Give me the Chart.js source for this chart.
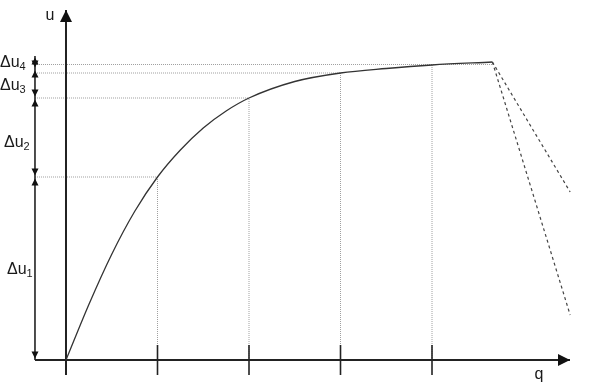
<!DOCTYPE html>
<html>
<head>
<title>u(q)</title>
<script src="https://cdn.jsdelivr.net/npm/chart.js"></script>
<style>
    body { margin: 0; background: #fff; }
    canvas { display: block; }
</style>
</head>
<body>
<canvas id="chart" width="600" height="383"></canvas>
<script>
// values (q along the bottom, u up the side)
const qTicks = [0, 1, 2, 3, 4];
const uLevels = [0, 1.83, 2.62, 2.87, 2.955];
const curveQ = [0, 0.25, 0.5, 0.75, 1.0, 1.25, 1.5, 1.75, 2.0, 2.5, 3.0, 3.5, 4.0, 4.66];
const curveU = [0, 0.555, 1.058, 1.485, 1.83, 2.10, 2.32, 2.49, 2.62, 2.785, 2.87, 2.915, 2.95, 2.98];
const fallQ = [5.51, 5.51];
const fallU = [1.68, 0.45];
const dimLevels = [0, 1.83, 2.62, 2.91, 3.04];
const subscripts = ['1', '2', '3', '4'];

// geometry of the drawing
const qAxisStart = -0.339, qAxisEnd = 5.508;
const uAxisStart = -0.15, uAxisEnd = 3.50;
const dimQ = -0.339;
const tickHalf = 0.15;

const ink = '#333';
const guide = '#a0a0a0';

function seg(points, opts) {
    return Object.assign({
        data: points.map(p => ({ x: p[0], y: p[1] })),
        borderColor: ink,
        borderWidth: 1,
        pointRadius: 0,
        tension: 0,
        fill: false,
        clip: false
    }, opts || {});
}

const datasets = [];

// the curve
datasets.push(seg(curveQ.map((q, i) => [q, curveU[i]]), {
    borderWidth: 1.3, cubicInterpolationMode: 'monotone'
}));

// the two dashed drops after the peak
const peakQ = curveQ[curveQ.length - 1], peakU = curveU[curveU.length - 1];
fallQ.forEach((q, i) => {
    datasets.push(seg([[peakQ, peakU], [q, fallU[i]]], { borderDash: [3, 3], borderWidth: 1.2, borderColor: '#444' }));
});

// axes
datasets.push(seg([[0, uAxisStart], [0, uAxisEnd]], { borderWidth: 2, borderColor: '#222' }));
datasets.push(seg([[qAxisStart, 0], [qAxisEnd, 0]], { borderWidth: 2, borderColor: '#222' }));

// ticks on q
qTicks.slice(1).forEach(q => {
    datasets.push(seg([[q, -tickHalf], [q, tickHalf]], { borderWidth: 1.6, borderColor: '#222' }));
});

// dimension line on the left
datasets.push(seg([[dimQ, dimLevels[0]], [dimQ, dimLevels[dimLevels.length - 1]]], { borderWidth: 1.6, borderColor: '#222' }));

// dotted guides
for (let i = 1; i < qTicks.length; i++) {
    const right = i === qTicks.length - 1 ? peakQ : qTicks[i];
    datasets.push(seg([[dimQ, uLevels[i]], [right, uLevels[i]]], { borderColor: guide, borderDash: [1, 1] }));
    datasets.push(seg([[qTicks[i], 0], [qTicks[i], uLevels[i]]], { borderColor: guide, borderDash: [1, 1] }));
}

function head(ctx, x, y, dir, len, half) {
    ctx.beginPath();
    ctx.moveTo(x, y);
    if (dir === 'up') { ctx.lineTo(x - half, y + len); ctx.lineTo(x + half, y + len); }
    if (dir === 'down') { ctx.lineTo(x - half, y - len); ctx.lineTo(x + half, y - len); }
    if (dir === 'right') { ctx.lineTo(x - len, y - half); ctx.lineTo(x - len, y + half); }
    ctx.closePath();
    ctx.fill();
}

const decor = {
    id: 'decor',
    afterDatasetsDraw(chart) {
        const ctx = chart.ctx;
        const xs = chart.scales.x, ys = chart.scales.y;
        const px = v => xs.getPixelForValue(v);
        const py = v => ys.getPixelForValue(v);
        ctx.save();
        ctx.fillStyle = '#111';
        head(ctx, px(0), py(uAxisEnd), 'up', 12, 6);
        head(ctx, px(qAxisEnd), py(0), 'right', 12, 6);
        for (let i = 0; i < dimLevels.length - 1; i++) {
            head(ctx, px(dimQ), py(dimLevels[i]) - 1.5, 'down', 7, 3.5);
            head(ctx, px(dimQ), py(dimLevels[i + 1]) + 1.5, 'up', 7, 3.5);
        }

        ctx.fillStyle = '#1a1a1a';
        ctx.textBaseline = 'alphabetic';
        ctx.textAlign = 'center';
        ctx.font = '16px "Liberation Sans", Arial, sans-serif';
        ctx.fillText('u', px(-0.175), py(3.40));
        ctx.fillText('q', px(5.17), py(-0.19));

        // Δu labels: left edge in q, baseline in u
        const spots = [[-0.645, 0.86], [-0.678, 2.13], [-0.721, 2.70], [-0.721, 2.93]];
        ctx.textAlign = 'left';
        subscripts.forEach((s, i) => {
            const x = px(spots[i][0]), y = py(spots[i][1]);
            ctx.font = '16px "Liberation Sans", Arial, sans-serif';
            ctx.fillText('\u0394u', x, y);
            const w = ctx.measureText('\u0394u').width;
            ctx.font = '11px "Liberation Sans", Arial, sans-serif';
            ctx.fillText(s, x + w, y + 3);
        });
        ctx.restore();
    }
};

new Chart(document.getElementById('chart').getContext('2d'), {
    type: 'line',
    data: { datasets: datasets },
    options: {
        responsive: false,
        animation: false,
        devicePixelRatio: 1,
        layout: { padding: 0 },
        plugins: { legend: { display: false }, tooltip: { enabled: false } },
        scales: {
            x: { type: 'linear', display: false, min: -0.7213, max: 5.836 },
            y: { type: 'linear', display: false, min: -0.23, max: 3.60 }
        }
    },
    plugins: [decor]
});
</script>
</body>
</html>
